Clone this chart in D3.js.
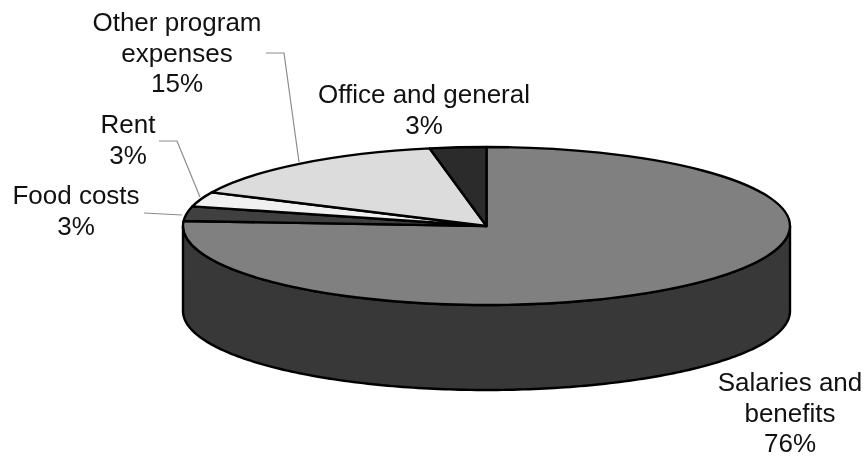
<!DOCTYPE html>
<html>
<head>
<meta charset="utf-8">
<script src="https://cdn.jsdelivr.net/npm/d3@7"></script>
<style>
  html, body { margin: 0; padding: 0; background: #fff; }
  svg { display: block; filter: blur(0.4px); } /* the original is a soft scan */
  text { font-family: "Liberation Sans", Arial, sans-serif; font-size: 26px; fill: #111; text-anchor: middle; }
</style>
</head>
<body>
<div id="chart"></div>
<script>
"use strict"

// data, clockwise from twelve o'clock
var categories = ["Salaries and benefits", "Food costs", "Rent", "Other program expenses", "Office and general"];
var shares = [76, 3, 3, 15, 3];

var width = 867,
  height = 459,
  depth = 85;

var sliceColors = ["#808080", "#404040", "#f0f0f0", "#dcdcdc", "#2b2b2b"];

// unit circle -> tilted ellipse
var xScale = d3.scaleLinear().domain([-1, 1]).range([183, 790]),
  yScale = d3.scaleLinear().domain([-1, 1]).range([305, 147]);

var rx = xScale(1) - xScale(0),
  ry = yScale(-1) - yScale(0);

var svg = d3.select("#chart").append("svg")
  .attr("width", width)
  .attr("height", height);

var pie = d3.pie().sort(null).value(function(d){ return d; });
var arc = d3.arc().innerRadius(0).outerRadius(1);

// side wall, front half of the rim only
var frontAngles = d3.range(90, 270.5, 1).map(function(d){ return d * Math.PI / 180; });
var wall = d3.area()
  .x(function(a){ return xScale(Math.sin(a)); })
  .y0(function(a){ return yScale(Math.cos(a)); })
  .y1(function(a){ return yScale(Math.cos(a)) + depth; });

svg.append("path")
  .attr("d", wall(frontAngles))
  .attr("fill", "#383838")
  .attr("stroke", "#000")
  .attr("stroke-width", 2.4);

svg.append("g")
  .attr("transform", "translate(" + xScale(0) + "," + yScale(0) + ") scale(" + rx + "," + ry + ")")
  .selectAll("path")
  .data(pie(shares))
  .enter().append("path")
  .attr("d", arc)
  .attr("fill", function(d, i){ return sliceColors[i]; })
  .attr("stroke", "#000")
  .attr("stroke-width", 2.4)
  .attr("stroke-linejoin", "round")
  .attr("vector-effect", "non-scaling-stroke");

// label placement, same order as categories
var labelLayout = [
  { x: 790, y: 391, lines: ["Salaries and", "benefits"] },
  { x: 76, y: 204, lines: ["Food costs"] },
  { x: 128, y: 133, lines: ["Rent"] },
  { x: 177, y: 31, lines: ["Other program", "expenses"] },
  { x: 424, y: 103, lines: ["Office and general"] }
];
var lineStep = 30.7;

labelLayout.forEach(function(l, i){
  var t = svg.append("text").attr("y", l.y);
  l.lines.concat([shares[i] + "%"]).forEach(function(s, j){
    t.append("tspan")
      .attr("x", l.x)
      .attr("y", l.y + j * lineStep)
      .text(s);
  });
});

// leader lines
var leaders = [
  [[144, 213], [182, 215]],
  [[159, 141], [177, 141], [200, 197]],
  [[266, 53], [284, 53], [299, 162]]
];
var leaderLine = d3.line();

svg.selectAll("path.leader")
  .data(leaders)
  .enter().append("path")
  .attr("class", "leader")
  .attr("d", leaderLine)
  .attr("fill", "none")
  .attr("stroke", "#8c8c8c")
  .attr("stroke-width", 1.2);
</script>
</body>
</html>
